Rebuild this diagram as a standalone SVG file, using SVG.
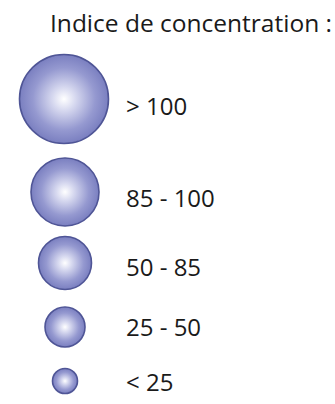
<svg xmlns="http://www.w3.org/2000/svg" width="335" height="404" viewBox="0 0 335 404">
<defs>
<radialGradient id="g" cx="0.5" cy="0.5" r="0.5">
<stop offset="0" stop-color="#ffffff"/>
<stop offset="0.25" stop-color="#d8daf0"/>
<stop offset="0.7" stop-color="#9599d0"/>
<stop offset="1" stop-color="#7a7fc0"/>
</radialGradient>
</defs>
<style>
.c{fill:url(#g);stroke:#4f5596;stroke-width:1.6}
.t{font-family:"Open Sans","Liberation Sans",sans-serif;font-size:24px;fill:#1a1a1a}
</style>
<rect width="335" height="404" fill="#ffffff"/>
<g id="title"><text class="t" x="50" y="32" textLength="282" lengthAdjust="spacingAndGlyphs">Indice de concentration :</text></g>
<g id="n1"><circle class="c" cx="64" cy="99" r="44.5"/><text class="t" x="126" y="115">&gt; 100</text></g>
<g id="n2"><circle class="c" cx="65" cy="192" r="34"/><text class="t" x="126" y="207">85 - 100</text></g>
<g id="n3"><circle class="c" cx="65" cy="263" r="26.5"/><text class="t" x="126" y="276">50 - 85</text></g>
<g id="n4"><circle class="c" cx="65" cy="327" r="20"/><text class="t" x="126" y="336">25 - 50</text></g>
<g id="n5"><circle class="c" cx="65" cy="381" r="12.5"/><text class="t" x="126" y="391">&lt; 25</text></g>
</svg>
